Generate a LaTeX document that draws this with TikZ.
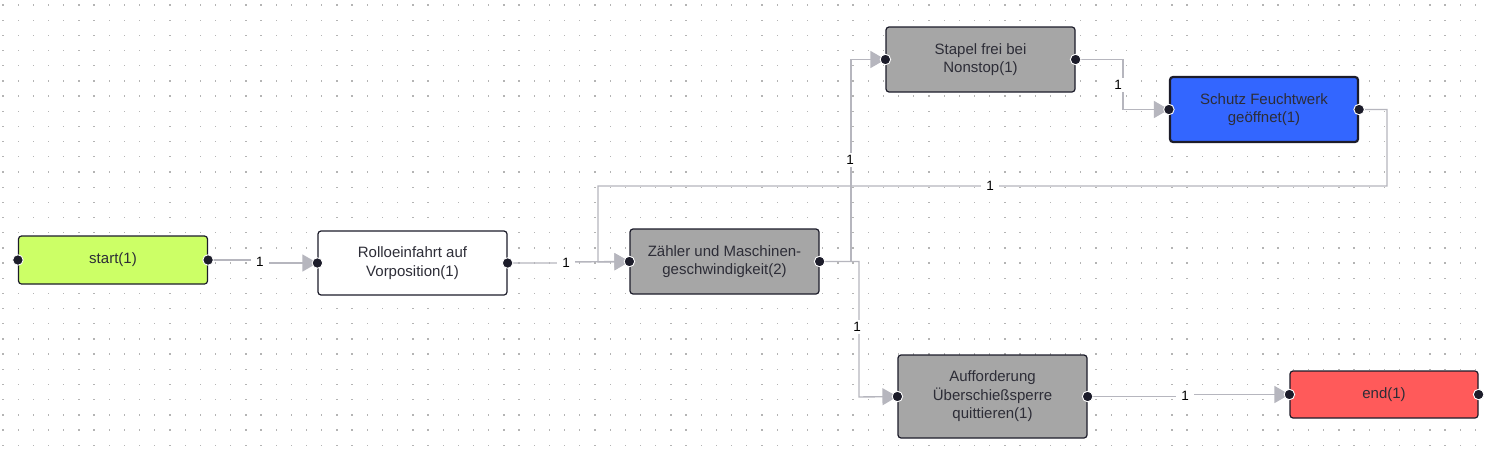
\documentclass[tikz,border=0pt]{standalone}
\usepackage{fontspec}
\setmainfont{Liberation Sans}
\usetikzlibrary{arrows.meta}
\definecolor{gridc}{RGB}{180,180,180}
\definecolor{linec}{RGB}{182,182,190}
\definecolor{bordc}{RGB}{28,28,42}
\definecolor{txtc}{RGB}{45,45,55}
\definecolor{greenf}{RGB}{204,255,102}
\definecolor{grayf}{RGB}{166,166,166}
\definecolor{bluef}{RGB}{51,102,255}
\definecolor{redf}{RGB}{255,90,90}
\tikzset{
  box/.style={draw=bordc, line width=1.2pt, rounded corners=3pt, minimum width=189pt, align=center, text=txtc, font=\fontsize{15}{18.5}\selectfont, inner sep=0pt},
  conn/.style={draw=linec, line width=1.4pt, -{Triangle[length=15pt,width=17pt,fill=linec]}},
  lbl/.style={fill=white, inner xsep=5pt, inner ysep=2pt, text=black, font=\fontsize{13.5}{15}\selectfont},
  port/.style={circle, fill=bordc, draw=white, line width=0.9pt, minimum size=10.5pt, inner sep=0pt}
}
\begin{document}
\begin{tikzpicture}[x=1pt,y=-1pt]
\useasboundingbox (0,0) rectangle (1490,455);
\fill[white] (0,0) rectangle (1490,455);
% dotted grid
\foreach \i in {0,...,97}{
  \foreach \j in {0,...,29}{
    \fill[gridc] ({3+15.18*\i-0.65},{5+15.18*\j-0.65}) rectangle ++(1.3,1.3);
  }
}
% nodes
\node[box, fill=greenf, minimum height=48pt] (start) at (113,260) {start(1)};
\node[box, fill=white, minimum height=64pt] (rollo) at (412.5,263) {Rolloeinfahrt auf\\Vorposition(1)};
\node[box, fill=grayf, minimum height=65pt] (zaehler) at (724.5,261.5) {Zähler und Maschinen-\\geschwindigkeit(2)};
\node[box, fill=grayf, minimum height=65pt] (stapel) at (980.5,59.5) {Stapel frei bei\\Nonstop(1)};
\node[box, fill=bluef, minimum height=65pt, minimum width=188pt, line width=2.2pt] (schutz) at (1264,109.5) {Schutz Feuchtwerk\\geöffnet(1)};
\node[box, fill=grayf, minimum height=83pt] (auff) at (992.5,396.5) {Aufforderung\\Überschießsperre\\quittieren(1)};
\node[box, fill=redf, minimum height=47pt, minimum width=188pt] (end) at (1384,394.5) {end(1)};
% connectors
\draw[conn] (start.east) -- (259,260) -- (259,263) -- (rollo.west);
\node[lbl] (l1) at (260,261.5) {1};
\draw[conn] (rollo.east) -- (565,263) -- (565,262) -- (zaehler.west);
\node[lbl] (l2) at (566,262.5) {1};
\draw[conn] (schutz.east) -- (1387,109.5) -- (1387,186) -- (598,186) -- (598,262) -- (zaehler.west);
\node[lbl] (l3) at (990,186) {1};
\draw[conn] (zaehler.east) -- (851,261.5) -- (851,59.5) -- (stapel.west);
\node[lbl] (l4) at (850,160) {1};
\draw[conn] (zaehler.east) -- (859,261.5) -- (859,397) -- (auff.west);
\node[lbl] (l5) at (857,327) {1};
\draw[conn] (stapel.east) -- (1123,59.5) -- (1123,109.5) -- (schutz.west);
\node[lbl] (l6) at (1118,85) {1};
\draw[conn] (auff.east) -- (1184,396.5) -- (1184,394.5) -- (end.west);
\node[lbl] (l7) at (1185,395.5) {1};
% ports
\foreach \n in {start,rollo,zaehler,stapel,schutz,auff,end}{
  \node[port] at (\n.west) {};
  \node[port] at (\n.east) {};
}
\end{tikzpicture}
\end{document}
